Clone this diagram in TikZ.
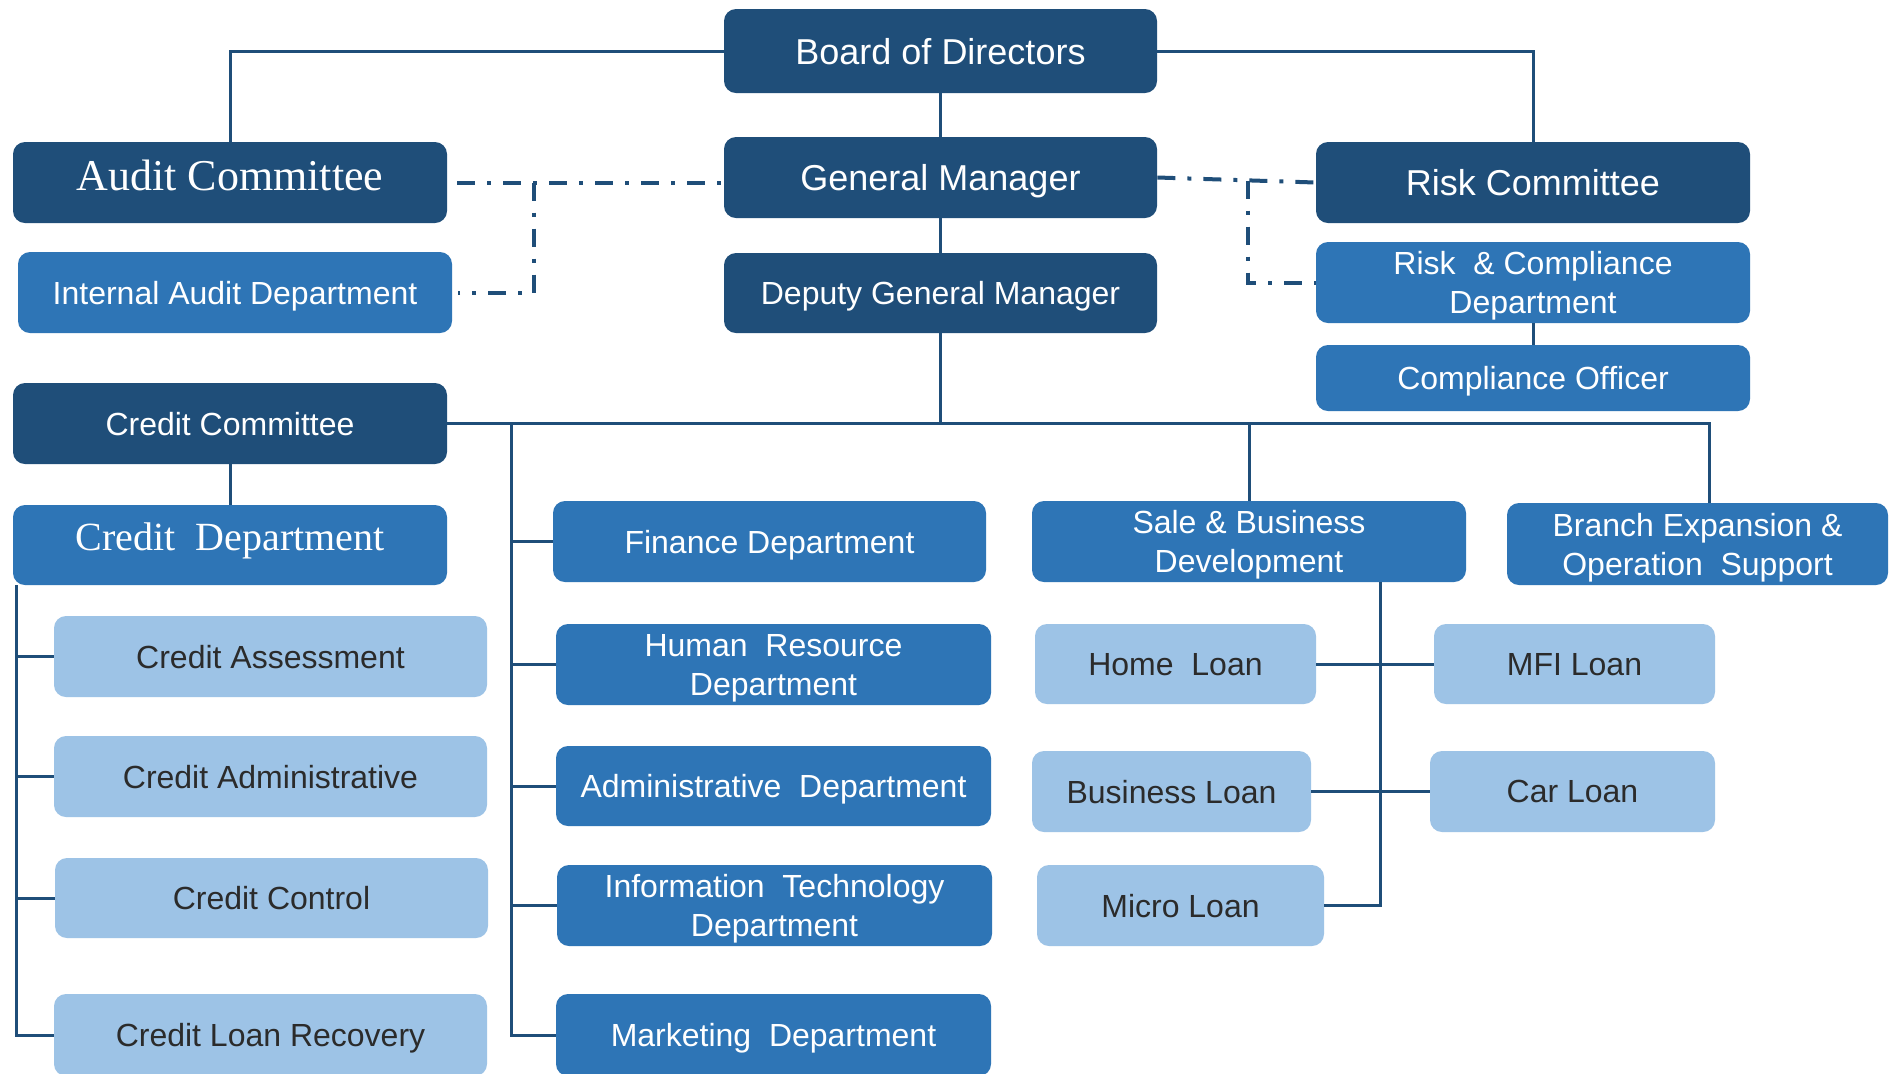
\documentclass[tikz,border=0pt]{standalone}
\usepackage{fontspec}
\setmainfont{Liberation Sans}
\newfontfamily\seriffam{Liberation Serif}
\usetikzlibrary{calc}
\definecolor{dk}{HTML}{1F4E79}
\definecolor{md}{HTML}{2E75B6}
\definecolor{lt}{HTML}{9DC3E6}
\definecolor{ln}{HTML}{1F4E79}
\definecolor{tx}{HTML}{2B2B2B}
\begin{document}
\begin{tikzpicture}[x=0.5pt,y=-0.5pt,
  box/.style={rounded corners=6pt, inner sep=0pt, align=center, text depth=0pt, font=\fontsize{16}{19.5}\selectfont},
  dkbox/.style={box, fill=dk, text=white},
  mdbox/.style={box, fill=md, text=white},
  ltbox/.style={box, fill=lt, text=tx},
  big/.style={font=\fontsize{18}{21}\selectfont},
  sz/.style 2 args={minimum width={#1*0.5pt}, minimum height={#2*0.5pt}},
  conn/.style={draw=ln, line width=1.5pt},
  dd/.style={draw=ln, line width=2pt, dash pattern=on 9pt off 6pt on 2pt off 6pt}
]
\fill[white] (0,0) rectangle (1890,1073);
\useasboundingbox (0,0) rectangle (1890,1073);

% top
\node[dkbox, big, sz={433}{84}] (bod) at (940.5,51) {Board of Directors};
\node[dkbox, big, sz={433}{81}] (gm) at (940.5,177.5) {General Manager};
\node[dkbox, sz={433}{80}] (dgm) at (940.5,293) {Deputy General Manager};
\node[dkbox, sz={434}{81}, font=\seriffam\fontsize{22}{26}\selectfont] (audit) at (230,182.5) {\raisebox{3.5pt}[\height][\depth]{Audit Committee}};
\node[mdbox, sz={434}{81}] (iad) at (235,292.5) {Internal Audit Department};
\node[dkbox, big, sz={434}{81}] (risk) at (1533,182.5) {Risk Committee};
\node[mdbox, sz={434}{81}] (rcd) at (1533,282.5) {Risk \ \& Compliance\\Department};
\node[mdbox, sz={434}{66}] (co) at (1533,378) {Compliance Officer};

% credit
\node[dkbox, sz={434}{81}] (cc) at (230,423.5) {Credit Committee};
\node[mdbox, sz={434}{80}, font=\seriffam\fontsize{20}{24}\selectfont] (cd) at (230,545) {\raisebox{4pt}[\height][\depth]{Credit \ Department}};
\node[ltbox, sz={433}{81}] (ca) at (270.5,656.5) {Credit Assessment};
\node[ltbox, sz={433}{81}] (cadm) at (270.5,776.5) {Credit Administrative};
\node[ltbox, sz={433}{80}] (cctl) at (271.5,898) {Credit Control};
\node[ltbox, sz={433}{82}] (clr) at (270.5,1035) {Credit Loan Recovery};

% departments
\node[mdbox, sz={433}{81}] (fin) at (769.5,541.5) {Finance Department};
\node[mdbox, sz={435}{81}] (hr) at (773.5,664.5) {Human \ Resource\\Department};
\node[mdbox, sz={435}{80}] (adm) at (773.5,786) {Administrative \ Department};
\node[mdbox, sz={435}{81}] (it) at (774.5,905.5) {Information \ Technology\\Department};
\node[mdbox, sz={435}{82}] (mkt) at (773.5,1035) {Marketing \ Department};

% sales
\node[mdbox, sz={434}{81}] (sale) at (1249,541.5) {Sale \& Business\\Development};
\node[mdbox, sz={381}{82}] (branch) at (1697.5,544) {Branch Expansion \&\\Operation \ Support};
\node[ltbox, sz={281}{80}] (home) at (1175.5,664) {Home \ Loan};
\node[ltbox, sz={281}{80}] (mfi) at (1574.5,664) {MFI Loan};
\node[ltbox, sz={279}{81}] (bus) at (1171.5,791.5) {Business Loan};
\node[ltbox, sz={285}{81}] (car) at (1572.5,791.5) {Car Loan};
\node[ltbox, sz={287}{81}] (micro) at (1180.5,905.5) {Micro Loan};

% solid connectors
\draw[conn] (bod.west) -| (audit.north);
\draw[conn] (bod.east) -| (risk.north);
\draw[conn] (bod.south) -- (gm.north);
\draw[conn] (gm.south) -- (dgm.north);
\coordinate (j) at (940.5,423.5);
\draw[conn] (dgm.south) -- (j);
\draw[conn] (cc.east) -| ([xshift=6pt]branch.north);
\draw[conn] (sale.north) -- (sale.north |- cc.east);
\draw[conn] (rcd.south) -- (co.north);
\draw[conn] (cc.south) -- (cd.north);

% department trunk
\coordinate (v1) at (511,423.5);
\draw[conn] (v1) |- (mkt.west);
\draw[conn] (v1 |- fin.west) -- (fin.west);
\draw[conn] (v1 |- hr.west) -- (hr.west);
\draw[conn] (v1 |- adm.west) -- (adm.west);
\draw[conn] (v1 |- it.west) -- (it.west);

% credit trunk
\coordinate (v2) at (16,585);
\draw[conn] (v2) |- (clr.west);
\draw[conn] (v2 |- ca.west) -- (ca.west);
\draw[conn] (v2 |- cadm.west) -- (cadm.west);
\draw[conn] (v2 |- cctl.west) -- (cctl.west);

% sales trunk
\coordinate (sv) at (1380,582);
\draw[conn] (sv) |- (micro.east);
\draw[conn] (home.east) -- (mfi.west);
\draw[conn] (bus.east) -- (car.west);

% dash-dot links
\coordinate (da) at (534,182.5);
\draw[dd] ([xshift=5pt]audit.east) -- (audit.east -| gm.west);
\draw[dd] (da) |- ([xshift=3pt]iad.east);
\coordinate (db) at (1248,180.5);
\draw[dd] (gm.east) -- (risk.west);
\draw[dd] (db) |- (rcd.west);
\end{tikzpicture}
\end{document}
